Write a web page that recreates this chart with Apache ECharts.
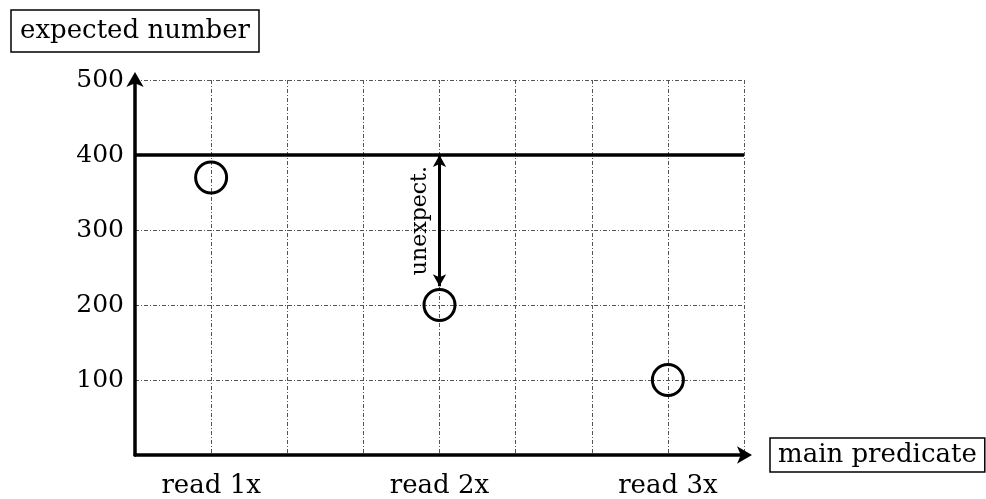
<!DOCTYPE html>
<html>
<head>
<meta charset="utf-8">
<title>expected number</title>
<script src="https://cdn.jsdelivr.net/npm/echarts@6/dist/echarts.min.js"></script>
<style>
    html, body { margin: 0; padding: 0; background: #fff; }
    #chart { width: 986px; height: 499px; }
</style>
</head>
<body>
<div id="chart"></div>
<script>
// 数据
var categories = ['read 1x', 'read 2x', 'read 3x'];
var expected = [370, 200, 100];
var baseline = 400;          // 水平线
var unexpectFrom = 225;      // 双箭头下端
var yTicks = [100, 200, 300, 400, 500];

var FONT = 'DejaVu Serif';

window.onload = function () {
    initChart();
}

// 类别 i 在 x 轴上的位置：每个类别占三格
function slot(i) {
    return i * 3 + 1;
}

function initChart() {
    var chart = echarts.init(document.getElementById('chart'));
    var xMax = categories.length * 3 - 1;

    var points = [];
    for (let i = 0; i < categories.length; i++) {
        points.push([slot(i), expected[i]]);
    }
    var labelAt = {};
    categories.forEach(function (c, i) { labelAt[slot(i)] = c; });

    var gridLine = { color: '#555', width: 1, type: [4, 2, 1, 2] };

    chart.setOption({
        animation: false,
        grid: { left: 135, right: 242, top: 80, bottom: 44, outerBoundsMode: 'none' },
        xAxis: {
            type: 'value',
            min: 0,
            max: xMax,
            interval: 1,
            name: 'main predicate',
            nameLocation: 'end',
            nameGap: 26,
            nameTextStyle: {
                fontFamily: FONT, fontSize: 26, color: '#000',
                borderColor: '#000', borderWidth: 1.5,
                padding: [4, 8, 4, 8]
            },
            axisLine: {
                lineStyle: { color: '#000', width: 3.5 },
                symbol: ['none', 'arrow'],
                symbolSize: [13, 15],
                symbolOffset: [0, 8]
            },
            axisTick: { show: false },
            axisLabel: {
                fontFamily: FONT, fontSize: 26, color: '#000', margin: 18,
                formatter: function (v) { return labelAt[v] || ''; }
            },
            splitLine: { show: true, lineStyle: gridLine }
        },
        yAxis: {
            type: 'value',
            min: 0,
            max: yTicks[yTicks.length - 1],
            interval: 100,
            name: 'expected number',
            nameLocation: 'end',
            nameGap: 28,
            nameTextStyle: {
                fontFamily: FONT, fontSize: 26, color: '#000',
                borderColor: '#000', borderWidth: 1.5,
                padding: [8, 9, 8, 9]
            },
            axisLine: {
                show: true,
                lineStyle: { color: '#000', width: 3.5 },
                symbol: ['none', 'arrow'],
                symbolSize: [13, 15],
                symbolOffset: [0, 8]
            },
            axisTick: { show: false },
            axisLabel: {
                fontFamily: FONT, fontSize: 25, color: '#000', margin: 11,
                formatter: function (v) { return yTicks.indexOf(v) >= 0 ? String(v) : ''; }
            },
            splitLine: { show: true, lineStyle: gridLine }
        },
        series: [
            {
                type: 'line',
                data: [[0, baseline], [xMax, baseline]],
                symbol: 'none',
                lineStyle: { color: '#000', width: 3.5 },
                silent: true,
                markLine: {
                    silent: true,
                    symbol: ['arrow', 'arrow'],
                    symbolSize: [10, 12],
                    lineStyle: { color: '#000', width: 3, type: 'solid' },
                    label: {
                        show: true,
                        position: 'middle',
                        distance: 8,
                        formatter: 'unexpect.',
                        fontFamily: FONT, fontSize: 22, color: '#000'
                    },
                    data: [[
                        { coord: [slot(1), unexpectFrom] },
                        { coord: [slot(1), baseline] }
                    ]]
                }
            },
            {
                type: 'scatter',
                data: points,
                symbol: 'circle',
                symbolSize: 31,
                itemStyle: { color: 'rgba(0,0,0,0)', borderColor: '#000', borderWidth: 3, opacity: 1 }
            }
        ]
    });
}
</script>
</body>
</html>
